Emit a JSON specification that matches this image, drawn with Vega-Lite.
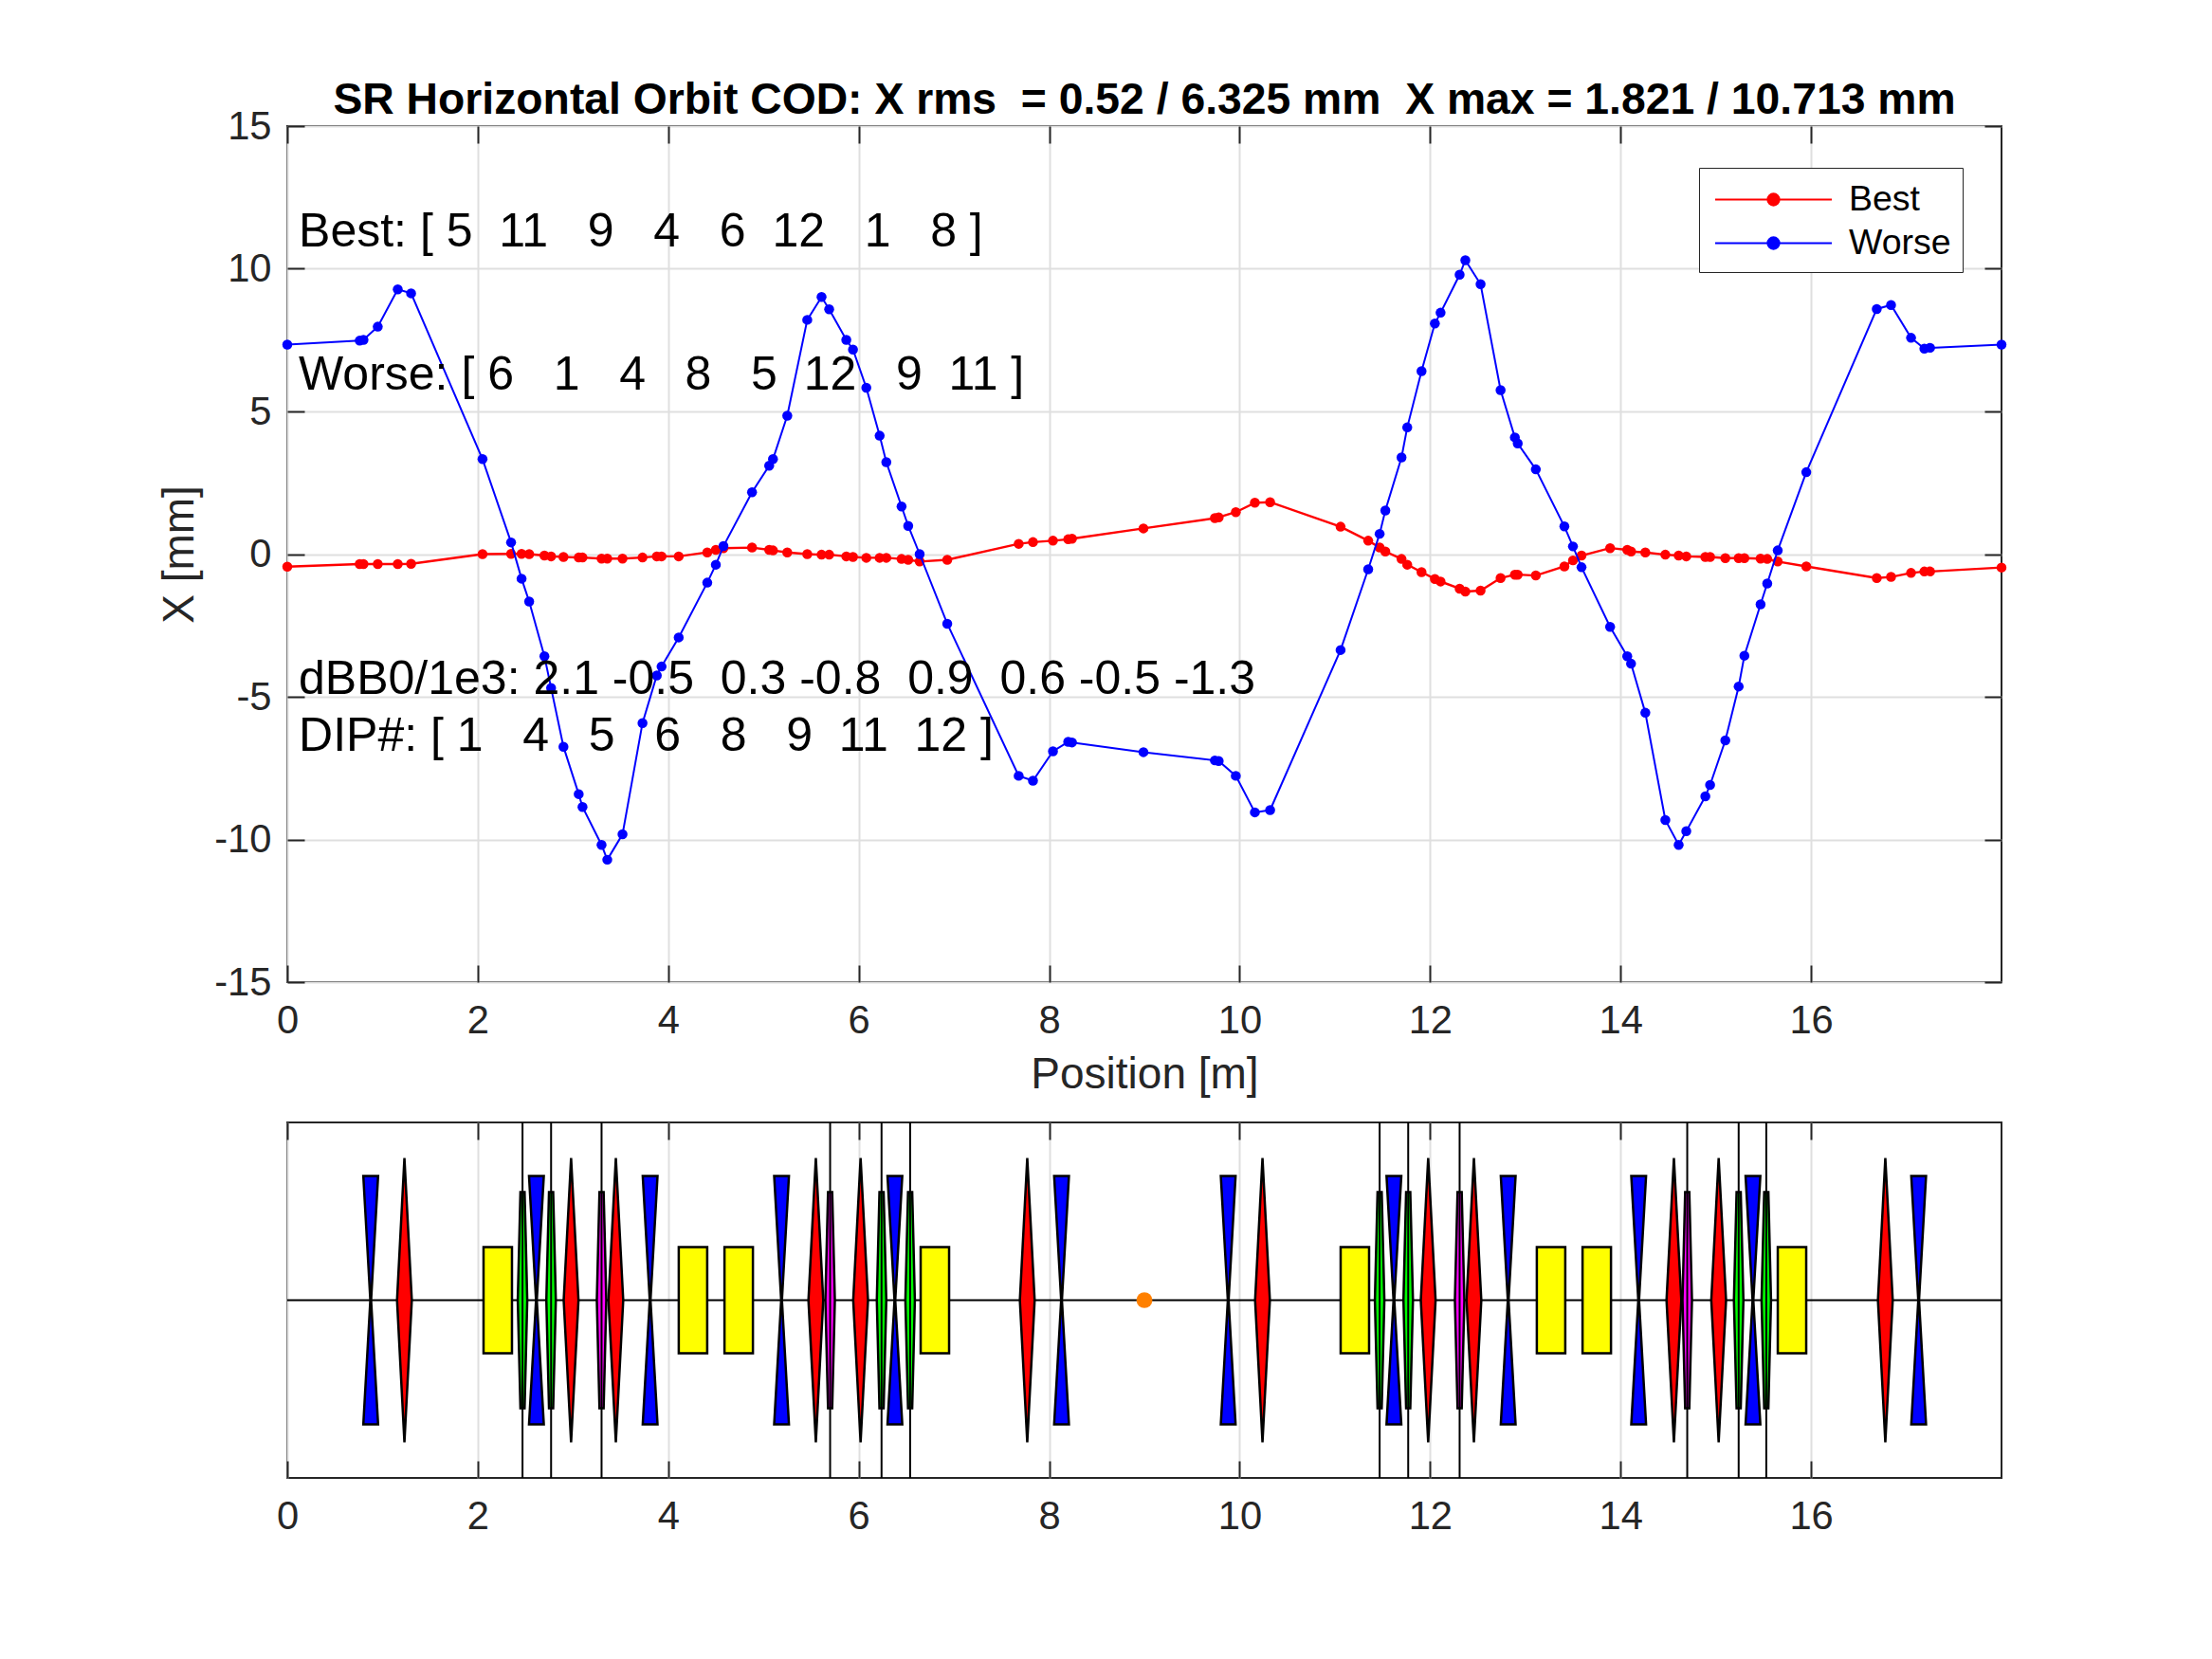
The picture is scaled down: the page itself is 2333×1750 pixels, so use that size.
{
  "$schema": "https://vega.github.io/schema/vega-lite/v6.json",
  "description": "SR horizontal orbit COD, best and worse dipole error orderings, with lattice sketch",
  "background": "white",
  "padding": {"left": 165, "top": 82, "right": 10, "bottom": 10},
  "title": {
    "text": "SR Horizontal Orbit COD: X rms \u00a0= 0.52 / 6.325 mm \u00a0X max = 1.821 / 10.713 mm",
    "font": "Liberation Sans",
    "fontSize": 46.3,
    "fontWeight": "bold",
    "color": "#000000",
    "anchor": "middle",
    "frame": "group",
    "offset": -17,
    "dx": 0
  },
  "datasets": {
    "orbit": [
      {"pos": 0.00, "best": -0.44, "worse": 7.34},
      {"pos": 0.76, "best": -0.35, "worse": 7.48},
      {"pos": 0.80, "best": -0.35, "worse": 7.51},
      {"pos": 0.95, "best": -0.35, "worse": 7.97},
      {"pos": 1.16, "best": -0.35, "worse": 9.28},
      {"pos": 1.30, "best": -0.34, "worse": 9.14},
      {"pos": 2.05, "best": 0.00, "worse": 3.33},
      {"pos": 2.35, "best": 0.01, "worse": 0.41},
      {"pos": 2.46, "best": 0.01, "worse": -0.86},
      {"pos": 2.54, "best": 0.00, "worse": -1.66},
      {"pos": 2.70, "best": -0.05, "worse": -3.58},
      {"pos": 2.77, "best": -0.08, "worse": -4.69},
      {"pos": 2.90, "best": -0.10, "worse": -6.75},
      {"pos": 3.06, "best": -0.12, "worse": -8.41},
      {"pos": 3.10, "best": -0.12, "worse": -8.86},
      {"pos": 3.30, "best": -0.16, "worse": -10.19},
      {"pos": 3.36, "best": -0.16, "worse": -10.71},
      {"pos": 3.52, "best": -0.16, "worse": -9.82},
      {"pos": 3.73, "best": -0.12, "worse": -5.92},
      {"pos": 3.88, "best": -0.08, "worse": -4.25},
      {"pos": 3.93, "best": -0.08, "worse": -3.94},
      {"pos": 4.11, "best": -0.08, "worse": -2.92},
      {"pos": 4.41, "best": 0.06, "worse": -1.00},
      {"pos": 4.50, "best": 0.15, "worse": -0.37},
      {"pos": 4.58, "best": 0.21, "worse": 0.28},
      {"pos": 4.88, "best": 0.23, "worse": 2.17},
      {"pos": 5.06, "best": 0.15, "worse": 3.10},
      {"pos": 5.10, "best": 0.13, "worse": 3.33},
      {"pos": 5.25, "best": 0.06, "worse": 4.85},
      {"pos": 5.46, "best": 0.00, "worse": 8.21},
      {"pos": 5.61, "best": -0.02, "worse": 9.01},
      {"pos": 5.69, "best": -0.02, "worse": 8.58},
      {"pos": 5.87, "best": -0.08, "worse": 7.51},
      {"pos": 5.94, "best": -0.10, "worse": 7.17},
      {"pos": 6.08, "best": -0.13, "worse": 5.83},
      {"pos": 6.22, "best": -0.13, "worse": 4.15},
      {"pos": 6.29, "best": -0.13, "worse": 3.22},
      {"pos": 6.45, "best": -0.17, "worse": 1.67},
      {"pos": 6.52, "best": -0.20, "worse": 0.99},
      {"pos": 6.64, "best": -0.26, "worse": 0.00},
      {"pos": 6.93, "best": -0.20, "worse": -2.44},
      {"pos": 7.68, "best": 0.36, "worse": -7.77},
      {"pos": 7.83, "best": 0.42, "worse": -7.94},
      {"pos": 8.04, "best": 0.47, "worse": -6.91},
      {"pos": 8.20, "best": 0.52, "worse": -6.58},
      {"pos": 8.24, "best": 0.54, "worse": -6.60},
      {"pos": 8.99, "best": 0.90, "worse": -6.94},
      {"pos": 9.74, "best": 1.26, "worse": -7.23},
      {"pos": 9.78, "best": 1.29, "worse": -7.25},
      {"pos": 9.96, "best": 1.47, "worse": -7.77},
      {"pos": 10.16, "best": 1.80, "worse": -9.05},
      {"pos": 10.32, "best": 1.82, "worse": -8.97},
      {"pos": 11.06, "best": 0.96, "worse": -3.36},
      {"pos": 11.35, "best": 0.47, "worse": -0.53},
      {"pos": 11.47, "best": 0.23, "worse": 0.71},
      {"pos": 11.53, "best": 0.09, "worse": 1.53},
      {"pos": 11.70, "best": -0.17, "worse": 3.39},
      {"pos": 11.76, "best": -0.37, "worse": 4.44},
      {"pos": 11.91, "best": -0.63, "worse": 6.41},
      {"pos": 12.05, "best": -0.87, "worse": 8.08},
      {"pos": 12.11, "best": -0.96, "worse": 8.46},
      {"pos": 12.31, "best": -1.21, "worse": 9.79},
      {"pos": 12.37, "best": -1.31, "worse": 10.30},
      {"pos": 12.53, "best": -1.28, "worse": 9.46},
      {"pos": 12.74, "best": -0.84, "worse": 5.75},
      {"pos": 12.89, "best": -0.72, "worse": 4.09},
      {"pos": 12.92, "best": -0.72, "worse": 3.88},
      {"pos": 13.11, "best": -0.75, "worse": 2.97},
      {"pos": 13.41, "best": -0.43, "worse": 0.97},
      {"pos": 13.50, "best": -0.22, "worse": 0.27},
      {"pos": 13.59, "best": -0.05, "worse": -0.46},
      {"pos": 13.89, "best": 0.21, "worse": -2.55},
      {"pos": 14.07, "best": 0.15, "worse": -3.58},
      {"pos": 14.11, "best": 0.09, "worse": -3.84},
      {"pos": 14.26, "best": 0.06, "worse": -5.56},
      {"pos": 14.47, "best": -0.02, "worse": -9.32},
      {"pos": 14.61, "best": -0.05, "worse": -10.19},
      {"pos": 14.69, "best": -0.08, "worse": -9.71},
      {"pos": 14.89, "best": -0.10, "worse": -8.49},
      {"pos": 14.94, "best": -0.10, "worse": -8.09},
      {"pos": 15.10, "best": -0.14, "worse": -6.53},
      {"pos": 15.24, "best": -0.14, "worse": -4.64},
      {"pos": 15.30, "best": -0.14, "worse": -3.56},
      {"pos": 15.47, "best": -0.16, "worse": -1.76},
      {"pos": 15.54, "best": -0.17, "worse": -1.03},
      {"pos": 15.65, "best": -0.26, "worse": 0.13},
      {"pos": 15.95, "best": -0.43, "worse": 2.87},
      {"pos": 16.69, "best": -0.84, "worse": 8.59},
      {"pos": 16.84, "best": -0.80, "worse": 8.73},
      {"pos": 17.05, "best": -0.66, "worse": 7.58},
      {"pos": 17.19, "best": -0.61, "worse": 7.20},
      {"pos": 17.25, "best": -0.61, "worse": 7.23},
      {"pos": 18.00, "best": -0.47, "worse": 7.34}
    ],
    "notes": [
      {"x": 0.12, "y": 11.28, "label": "Best: [ 5 \u00a011 \u00a0\u00a09 \u00a0\u00a04 \u00a0\u00a06 \u00a012 \u00a0\u00a01 \u00a0\u00a08 ]"},
      {"x": 0.12, "y": 6.26, "label": "Worse: [ 6 \u00a0\u00a01 \u00a0\u00a04 \u00a0\u00a08 \u00a0\u00a05 \u00a012 \u00a0\u00a09 \u00a011 ]"},
      {"x": 0.12, "y": -4.40, "label": "dBB0/1e3: 2.1 -0.5 \u00a00.3 -0.8 \u00a00.9 \u00a00.6 -0.5 -1.3"},
      {"x": 0.12, "y": -6.40, "label": "DIP#: [ 1 \u00a0\u00a04 \u00a0\u00a05 \u00a0\u00a06 \u00a0\u00a08 \u00a0\u00a09 \u00a011 \u00a012 ]"}
    ],
    "lattice": [
      {"pos": 0.876, "kind": "QD"},
      {"pos": 2.616, "kind": "QD"},
      {"pos": 3.81, "kind": "QD"},
      {"pos": 5.19, "kind": "QD"},
      {"pos": 6.38, "kind": "QD"},
      {"pos": 8.13, "kind": "QD"},
      {"pos": 9.88, "kind": "QD"},
      {"pos": 11.62, "kind": "QD"},
      {"pos": 12.82, "kind": "QD"},
      {"pos": 14.19, "kind": "QD"},
      {"pos": 15.39, "kind": "QD"},
      {"pos": 17.13, "kind": "QD"},
      {"pos": 1.23, "kind": "QF"},
      {"pos": 2.98, "kind": "QF"},
      {"pos": 3.45, "kind": "QF"},
      {"pos": 5.55, "kind": "QF"},
      {"pos": 6.02, "kind": "QF"},
      {"pos": 7.77, "kind": "QF"},
      {"pos": 10.24, "kind": "QF"},
      {"pos": 11.98, "kind": "QF"},
      {"pos": 12.46, "kind": "QF"},
      {"pos": 14.56, "kind": "QF"},
      {"pos": 15.03, "kind": "QF"},
      {"pos": 16.78, "kind": "QF"},
      {"pos": 2.21, "kind": "SX"},
      {"pos": 4.26, "kind": "SX"},
      {"pos": 4.74, "kind": "SX"},
      {"pos": 6.80, "kind": "SX"},
      {"pos": 11.21, "kind": "SX"},
      {"pos": 13.27, "kind": "SX"},
      {"pos": 13.75, "kind": "SX"},
      {"pos": 15.80, "kind": "SX"},
      {"pos": 2.47, "kind": "DIP"},
      {"pos": 2.77, "kind": "DIP"},
      {"pos": 6.24, "kind": "DIP"},
      {"pos": 6.54, "kind": "DIP"},
      {"pos": 11.47, "kind": "DIP"},
      {"pos": 11.77, "kind": "DIP"},
      {"pos": 15.24, "kind": "DIP"},
      {"pos": 15.53, "kind": "DIP"},
      {"pos": 3.30, "kind": "DIPM"},
      {"pos": 5.70, "kind": "DIPM"},
      {"pos": 12.31, "kind": "DIPM"},
      {"pos": 14.70, "kind": "DIPM"}
    ],
    "marker": [
      {"pos": 9.0}
    ]
  },
  "bounds": "flush",
  "spacing": 148,
  "vconcat": [
    {
      "width": 1808,
      "height": 903,
      "layer": [
        {
          "data": {"name": "orbit"},
          "mark": {"type": "line", "strokeWidth": 2.4, "point": {"filled": true, "size": 110, "opacity": 1}},
          "encoding": {
            "x": {
              "field": "pos", "type": "quantitative",
              "scale": {"domain": [0, 18], "nice": false, "zero": false},
              "axis": {"orient": "bottom", "values": [0, 2, 4, 6, 8, 10, 12, 14, 16], "title": "Position [m]", "grid": true}
            },
            "y": {
              "field": "best", "type": "quantitative",
              "scale": {"domain": [-15, 15], "nice": false},
              "axis": {"orient": "left", "values": [-15, -10, -5, 0, 5, 10, 15], "title": "X [mm]", "grid": true, "labelExpr": "'' + datum.value"}
            },
            "color": {
              "datum": "Best", "type": "nominal",
              "scale": {"domain": ["Best", "Worse"], "range": ["#ff0000", "#0000ff"]},
              "legend": {
                "orient": "none",
                "legendX": 1489,
                "legendY": 44,
                "title": null,
                "labelFont": "Liberation Sans",
                "labelFontSize": 37.5,
                "labelColor": "#000000",
                "strokeColor": "#262626",
                "fillColor": "#ffffff",
                "padding": 12,
                "rowPadding": 6,
                "symbolType": "M-3,0L3,0M-0.3,0A0.3,0.3 0 1 1 0.3,0A0.3,0.3 0 1 1 -0.3,0Z",
                "symbolSize": 1681,
                "symbolStrokeWidth": 2,
                "symbolOffset": 45,
                "labelOffset": 58
              }
            }
          }
        },
        {
          "data": {"name": "orbit"},
          "mark": {"type": "line", "strokeWidth": 2, "point": {"filled": true, "size": 110, "opacity": 1}},
          "encoding": {
            "x": {
              "field": "pos", "type": "quantitative",
              "scale": {"domain": [0, 18], "nice": false, "zero": false},
              "axis": {"orient": "top", "values": [0, 2, 4, 6, 8, 10, 12, 14, 16], "title": null, "labels": false, "grid": false}
            },
            "y": {
              "field": "worse", "type": "quantitative",
              "scale": {"domain": [-15, 15], "nice": false},
              "axis": {"orient": "right", "values": [-15, -10, -5, 0, 5, 10, 15], "title": null, "labels": false, "grid": false}
            },
            "color": {"datum": "Worse", "type": "nominal"}
          }
        },
        {
          "data": {"name": "notes"},
          "mark": {"type": "text", "align": "left", "baseline": "middle", "font": "Liberation Sans", "fontSize": 50, "color": "#000000"},
          "encoding": {
            "x": {"field": "x", "type": "quantitative", "scale": {"domain": [0, 18], "nice": false, "zero": false}, "axis": null},
            "y": {"field": "y", "type": "quantitative", "scale": {"domain": [-15, 15], "nice": false}, "axis": null},
            "text": {"field": "label"}
          }
        }
      ],
      "resolve": {"axis": {"x": "independent", "y": "independent"}}
    },
    {
      "width": 1808,
      "height": 375,
      "layer": [
        {
          "data": {"values": [{"line": "axis"}]},
          "mark": {"type": "rule", "color": "#000000", "strokeWidth": 2},
          "encoding": {
            "y": {"datum": 0, "type": "quantitative", "scale": {"domain": [-1, 1], "nice": false}, "axis": null}
          }
        },
        {
          "data": {"name": "lattice"},
          "mark": {"type": "point", "filled": true, "size": 40000, "stroke": "#000000", "strokeWidth": 2.5, "opacity": 1, "fillOpacity": 1, "strokeOpacity": 1},
          "encoding": {
            "x": {
              "field": "pos", "type": "quantitative",
              "scale": {"domain": [0, 18], "nice": false, "zero": false},
              "axis": {"orient": "bottom", "values": [0, 2, 4, 6, 8, 10, 12, 14, 16], "title": null, "grid": true}
            },
            "y": {"datum": 0, "type": "quantitative", "scale": {"domain": [-1, 1], "nice": false}, "axis": null},
            "shape": {
              "field": "kind", "type": "nominal",
              "scale": {
                "domain": ["QD", "QF", "SX", "DIP", "DIPM"],
                "range": [
                  "M-0.078,-1.31L0.078,-1.31L0.004,0L0.078,1.31L-0.078,1.31L-0.004,0Z",
                  "M0,-1.5L0.078,0L0,1.5L-0.078,0Z",
                  "M-0.15,-0.56L0.15,-0.56L0.15,0.56L-0.15,0.56Z",
                  "M-0.022,-1.14L0.022,-1.14L0.05,0L0.022,1.14L-0.022,1.14L-0.05,0Z",
                  "M-0.022,-1.14L0.022,-1.14L0.05,0L0.022,1.14L-0.022,1.14L-0.05,0Z"
                ]
              },
              "legend": null
            },
            "fill": {
              "field": "kind", "type": "nominal",
              "scale": {"domain": ["QD", "QF", "SX", "DIP", "DIPM"], "range": ["#0000ff", "#ff0000", "#ffff00", "#00ff00", "#ff00ff"]},
              "legend": null
            }
          }
        },
        {
          "data": {"name": "lattice"},
          "transform": [{"filter": "datum.kind === 'DIP' || datum.kind === 'DIPM'"}],
          "mark": {"type": "rule", "color": "#000000", "strokeWidth": 2},
          "encoding": {
            "x": {
              "field": "pos", "type": "quantitative",
              "scale": {"domain": [0, 18], "nice": false, "zero": false},
              "axis": {"orient": "top", "values": [0, 2, 4, 6, 8, 10, 12, 14, 16], "title": null, "labels": false, "grid": false}
            }
          }
        },
        {
          "data": {"name": "marker"},
          "mark": {"type": "point", "shape": "circle", "filled": true, "size": 280, "color": "#ff8000", "opacity": 1, "strokeWidth": 0},
          "encoding": {
            "x": {"field": "pos", "type": "quantitative", "scale": {"domain": [0, 18], "nice": false, "zero": false}, "axis": null},
            "y": {"datum": 0, "type": "quantitative", "scale": {"domain": [-1, 1], "nice": false}, "axis": null}
          }
        }
      ],
      "resolve": {"axis": {"x": "independent"}}
    }
  ],
  "config": {
    "font": "Liberation Sans",
    "view": {"stroke": "#262626", "strokeWidth": 2},
    "axis": {
      "domain": false,
      "ticks": true,
      "tickSize": -18,
      "tickWidth": 2,
      "tickColor": "#262626",
      "gridColor": "#dfdfdf",
      "gridWidth": 2,
      "labelFlush": false,
      "labelFont": "Liberation Sans",
      "labelFontSize": 41.7,
      "labelColor": "#262626",
      "titleFont": "Liberation Sans",
      "titleFontSize": 46,
      "titleFontWeight": "normal",
      "titleColor": "#262626"
    },
    "axisX": {"labelPadding": 38, "titlePadding": 14},
    "axisY": {"labelPadding": 35, "titlePadding": 12}
  }
}
